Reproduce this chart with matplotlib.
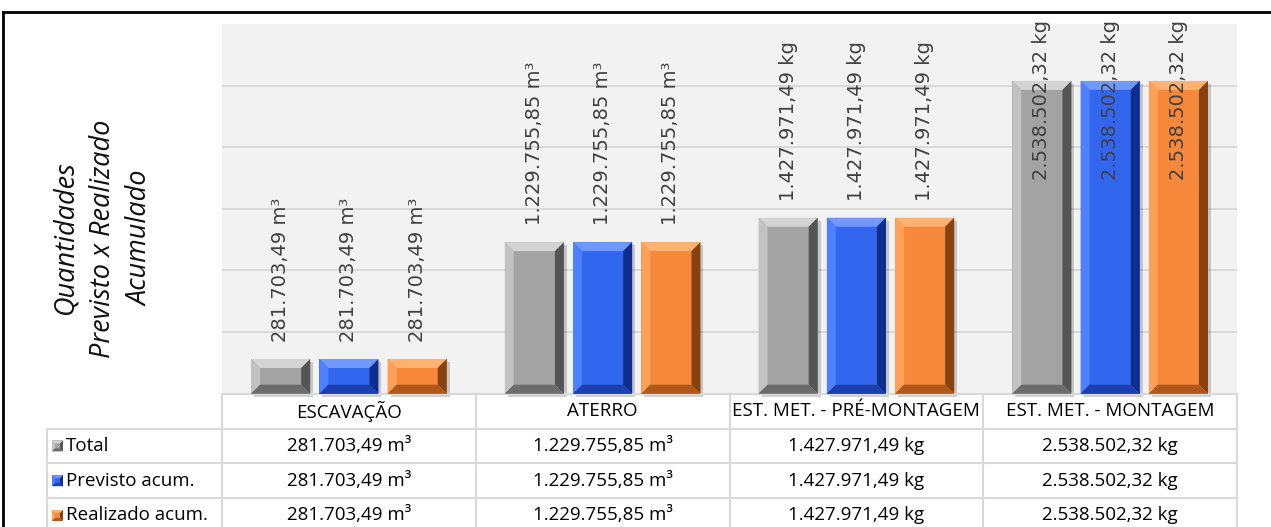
import matplotlib

matplotlib.use("Agg")
import matplotlib.pyplot as plt  # noqa: E402
import matplotlib.transforms as mtransforms  # noqa: E402
from matplotlib.lines import Line2D  # noqa: E402
from matplotlib.patches import Polygon, Rectangle  # noqa: E402

categories = ["ESCAVAÇÃO", "ATERRO", "EST. MET. - PRÉ-MONTAGEM", "EST. MET. - MONTAGEM"]
series_names = ["Total", "Previsto acum.", "Realizado acum."]
total = [281703.49, 1229755.85, 1427971.49, 2538502.32]
previsto = [281703.49, 1229755.85, 1427971.49, 2538502.32]
realizado = [281703.49, 1229755.85, 1427971.49, 2538502.32]
units = ["m³", "m³", "kg", "kg"]

# face, top, left, right, bottom
palettes = [
    ("#A3A3A3", "#D4D4D4", "#C2C2C2", "#555555", "#6C6C6C"),
    ("#3366EE", "#7098FF", "#4F80FF", "#0F2E8C", "#1B3FAE"),
    ("#F5883A", "#FFB272", "#FFA058", "#86420F", "#B0581A"),
]


def fmt_br(value: float, unit: str) -> str:
    s = f"{value:,.2f}".replace(",", "X").replace(".", ",").replace("X", ".")
    return f"{s} {unit}"


def bevel(ax, x0, w, h, colors, bx, by, trans=None, shadow=True):
    face, top, left, right, bottom = colors
    x1 = x0 + w
    kw = dict(edgecolor="none", clip_on=False)
    if trans is not None:
        kw["transform"] = trans
    if shadow:
        ax.add_patch(Rectangle((x0 + 0.012, -25000), w, h, facecolor="#000000", alpha=0.18,
                               zorder=2, **kw))
    ax.add_patch(Rectangle((x0, 0 if trans is None else h[0]), w, h if trans is None else h[1],
                           facecolor=face, zorder=3, **kw))
    y0 = 0 if trans is None else h[0]
    y1 = h if trans is None else h[0] + h[1]
    ax.add_patch(Polygon([(x0, y1), (x1, y1), (x1 - bx, y1 - by), (x0 + bx, y1 - by)],
                         facecolor=top, zorder=4, **kw))
    ax.add_patch(Polygon([(x0, y0), (x0 + bx, y0 + by), (x0 + bx, y1 - by), (x0, y1)],
                         facecolor=left, zorder=4, **kw))
    ax.add_patch(Polygon([(x1, y0), (x1, y1), (x1 - bx, y1 - by), (x1 - bx, y0 + by)],
                         facecolor=right, zorder=4, **kw))
    ax.add_patch(Polygon([(x0, y0), (x1, y0), (x1 - bx, y0 + by), (x0 + bx, y0 + by)],
                         facecolor=bottom, zorder=4, **kw))


fig = plt.figure(figsize=(12.71, 5.27), dpi=100)
fig.patch.set_facecolor("white")
W, H = 1271, 527
ax = fig.add_axes([222 / W, 1 - 393.7 / H, 1015 / W, (393.7 - 24) / H])
ax.set_facecolor("#F2F2F2")
ax.set_xlim(-0.5, len(categories) - 0.5)
ymax = 3000000
ax.set_ylim(0, ymax)
for s in ax.spines.values():
    s.set_visible(False)
ax.set_xticks([])
ax.set_yticks([])
for g in range(500000, ymax, 500000):
    ax.axhline(g, color="#D9D9D9", lw=1.4, zorder=1)

bar_w = 0.233
step = 0.269
px_y = ymax / 369.7
px_x = 1 / 253.75
all_series = [total, previsto, realizado]
labels = []
for si, vals in enumerate(all_series):
    for ci, v in enumerate(vals):
        xc = ci + (si - 1) * step
        bevel(ax, xc - bar_w / 2, bar_w, v, palettes[si], 9 * px_x, 9 * px_y)
        t = ax.text(xc, v + 17 * px_y, fmt_br(v, units[ci]), rotation=90, ha="center",
                    va="bottom", fontsize=14, color="#404040", zorder=6,
                    family="DejaVu Sans", clip_on=False)
        labels.append(t)

fig.canvas.draw()
renderer = fig.canvas.get_renderer()
inv = ax.transData.inverted()
for t in labels:
    bb = t.get_window_extent(renderer)
    (_, y0), (_, y1) = inv.transform([(bb.x0, bb.y0), (bb.x1, bb.y1)])
    limit = ymax + 4 * px_y
    if y1 > limit:
        x, y = t.get_position()
        t.set_position((x, y - (y1 - limit)))

ax.text(-119 / 1015, 0.42, "Quantidades\nPrevisto x Realizado\nAcumulado", transform=ax.transAxes,
        rotation=90, ha="center", va="center", fontsize=19.5, style="italic", fontweight=500,
        family="Open Sans", color="#111111", linespacing=1.45)

# data table below the chart
trans = mtransforms.blended_transform_factory(ax.transData, ax.transAxes)
row_h = 34.8 / 369.7
lab_x = -0.5 - 175 / 253.75
grid_c = "#D9D9D9"
n = len(categories)
nrows = 1 + len(series_names)
tfont = dict(family="Open Sans", fontsize=13.5, fontweight=500, color="#000000")

# horizontal lines
ax.add_line(Line2D([-0.5, n - 0.5], [0, 0], transform=trans, color=grid_c, lw=1.5, clip_on=False))
for r in range(1, nrows + 1):
    y = -r * row_h
    ax.add_line(Line2D([lab_x, n - 0.5], [y, y], transform=trans, color=grid_c, lw=1.5,
                       clip_on=False))
# vertical lines
for c in range(n + 1):
    x = c - 0.5
    ax.add_line(Line2D([x, x], [0, -nrows * row_h], transform=trans, color=grid_c, lw=1.5,
                       clip_on=False))
ax.add_line(Line2D([lab_x, lab_x], [-row_h, -nrows * row_h], transform=trans, color=grid_c,
                   lw=1.5, clip_on=False))

for ci, cat in enumerate(categories):
    ax.text(ci, -0.5 * row_h, cat, transform=trans, ha="center", va="center", **tfont)
for si, vals in enumerate(all_series):
    y = -(si + 1.5) * row_h
    for ci, v in enumerate(vals):
        ax.text(ci, y, fmt_br(v, units[ci]), transform=trans, ha="center", va="center", **tfont)
    mx = lab_x + 5 * px_x
    ms = 11 * px_x
    mh = 11 / 369.7
    bevel(ax, mx, ms, (y - mh / 2, mh), palettes[si], 3 * px_x, 3 / 369.7, trans=trans,
          shadow=False)
    ax.text(mx + ms + 3 * px_x, y, series_names[si], transform=trans, ha="left", va="center",
            **tfont)

# outer frame
fig.add_artist(Line2D([3 / W, 1], [1 - 12 / H, 1 - 12 / H], transform=fig.transFigure,
                      color="black", lw=2))
fig.add_artist(Line2D([3 / W, 3 / W], [0, 1 - 12 / H], transform=fig.transFigure,
                      color="black", lw=2))

fig.savefig("out.png", dpi=100, facecolor=fig.get_facecolor())
plt.close(fig)
